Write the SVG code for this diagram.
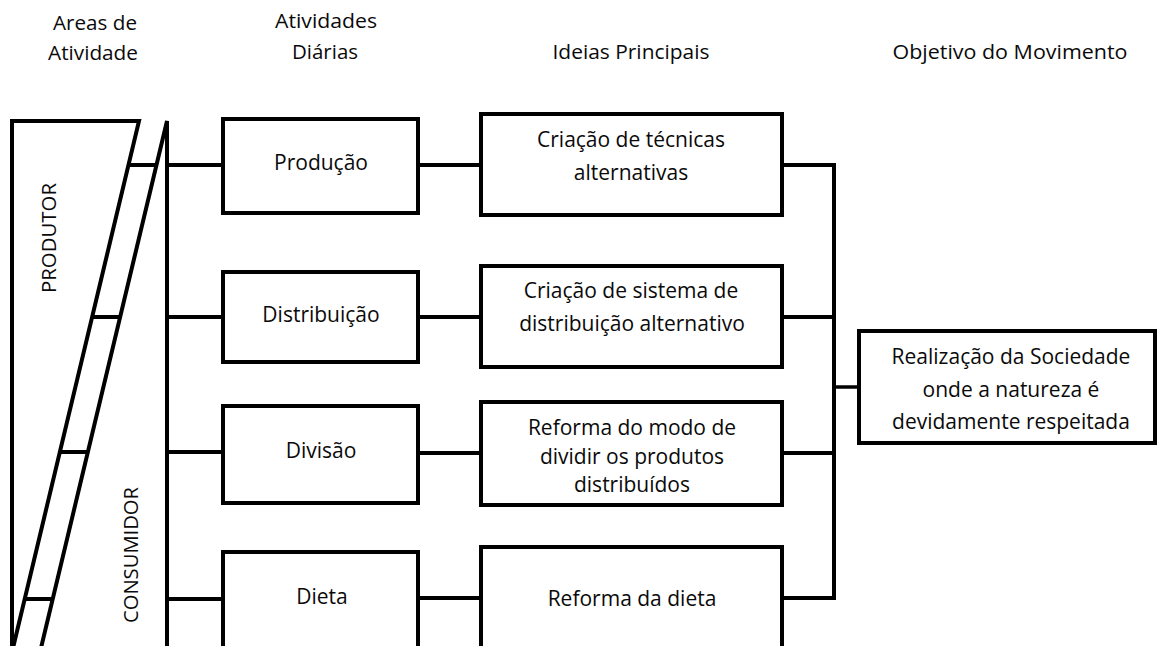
<svg xmlns="http://www.w3.org/2000/svg" width="1157" height="646" viewBox="0 0 1157 646">
<style>
.bg{fill:#ffffff}
.box{fill:#ffffff;stroke:#000;stroke-width:4;stroke-linejoin:miter}
.ln{fill:none;stroke:#000;stroke-width:4;stroke-linecap:butt;stroke-linejoin:miter}
.t{font-family:"Open Sans","Noto Sans",sans-serif;font-size:21px;fill:#0a0a0a;text-anchor:middle}
.h{font-family:"Open Sans","Noto Sans",sans-serif;font-size:20.5px;fill:#0a0a0a;text-anchor:middle}
</style>
<rect class="bg" x="0" y="0" width="1157" height="646"/>
<g id="headers">
<text class="h" x="95" y="30" textLength="84" lengthAdjust="spacingAndGlyphs">Areas de</text>
<text class="h" x="93" y="60" textLength="90" lengthAdjust="spacingAndGlyphs">Atividade</text>
<text class="h" x="326" y="28" textLength="102" lengthAdjust="spacingAndGlyphs">Atividades</text>
<text class="h" x="325" y="59" textLength="66" lengthAdjust="spacingAndGlyphs">Diárias</text>
<text class="h" x="631" y="59" textLength="157" lengthAdjust="spacingAndGlyphs">Ideias Principais</text>
<text class="h" x="1010" y="59" textLength="235" lengthAdjust="spacingAndGlyphs">Objetivo do Movimento</text>
</g>
<g id="areas">
<path class="ln" d="M12,648 V121 H139 L13,648"/>
<path class="ln" d="M41,648 L167,121 V648"/>
<path class="ln" d="M128,165 H157 M92,317 H121 M59,452 H88 M24,599 H53"/>
<text class="t" transform="translate(56,238) rotate(-90)" style="font-size:20px" textLength="110" lengthAdjust="spacingAndGlyphs">PRODUTOR</text>
<text class="t" transform="translate(138,555) rotate(-90)" style="font-size:20px" textLength="136" lengthAdjust="spacingAndGlyphs">CONSUMIDOR</text>
</g>
<g id="connectors">
<path class="ln" d="M167,165 H223 M167,317 H223 M167,452 H223 M167,599 H223"/>
<path class="ln" d="M418,165 H481 M418,317 H481 M418,453 H481 M418,598 H481"/>
<path class="ln" d="M782,165 H834 V598 H782 M782,317 H834 M782,453 H834"/>
<path class="ln" style="stroke-width:3.5" d="M834,387 H859"/>
</g>
<g id="producao">
<rect class="box" x="223" y="119" width="195" height="94"/>
<text class="t" x="321" y="170">Produção</text>
</g>
<g id="distribuicao">
<rect class="box" x="223" y="272" width="195" height="90"/>
<text class="t" x="321" y="322">Distribuição</text>
</g>
<g id="divisao">
<rect class="box" x="223" y="406" width="195" height="97"/>
<text class="t" x="321" y="458">Divisão</text>
</g>
<g id="dieta">
<rect class="box" x="223" y="552" width="195" height="110"/>
<text class="t" x="322" y="604">Dieta</text>
</g>
<g id="tecnicas">
<rect class="box" x="481" y="114" width="301" height="101"/>
<text class="t" x="631" y="147">Criação de técnicas</text>
<text class="t" x="631" y="180">alternativas</text>
</g>
<g id="sistema">
<rect class="box" x="481" y="266" width="301" height="101"/>
<text class="t" x="631" y="298">Criação de sistema de</text>
<text class="t" x="632" y="331">distribuição alternativo</text>
</g>
<g id="modo">
<rect class="box" x="481" y="402" width="301" height="103"/>
<text class="t" x="632" y="435">Reforma do modo de</text>
<text class="t" x="632" y="464">dividir os produtos</text>
<text class="t" x="632" y="492">distribuídos</text>
</g>
<g id="reformadieta">
<rect class="box" x="481" y="547" width="301" height="115"/>
<text class="t" x="632" y="606">Reforma da dieta</text>
</g>
<g id="objetivo">
<rect class="box" x="859" y="331" width="296" height="112"/>
<text class="t" x="1011" y="364">Realização da Sociedade</text>
<text class="t" x="1011" y="397">onde a natureza é</text>
<text class="t" x="1011" y="429">devidamente respeitada</text>
</g>
</svg>
